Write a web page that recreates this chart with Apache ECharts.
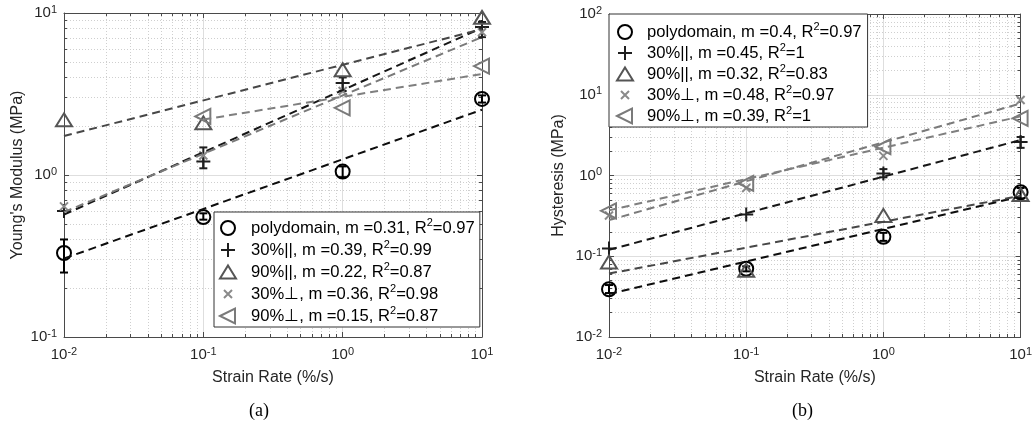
<!DOCTYPE html>
<html>
<head>
<meta charset="utf-8">
<script src="https://cdn.jsdelivr.net/npm/echarts@6/dist/echarts.min.js"></script>
<style>
html, body { margin: 0; padding: 0; background: #fff; }
#main { width: 1035px; height: 426px; }
</style>
</head>
<body>
<div id="main"></div>
<script>
// strain rates (%/s)
var rates = [0.01, 0.1, 1, 10];

// (a) Young's modulus (MPa)
var ymNames = ['polydomain, m =0.31, R^2=0.97', '30%||, m =0.39, R^2=0.99', '90%||, m =0.22, R^2=0.87',
               '30%\u22a5, m =0.36, R^2=0.98', '90%\u22a5, m =0.15, R^2=0.87'];
var ymPoly   = [0.33, 0.55, 1.05, 2.95];
var ymPar30  = [0.60, 1.21, 3.70, 8.2];
var ymPar90  = [2.19, 2.10, 4.47, 9.4];
var ymPerp30 = [0.64, 1.32, 3.30, 7.6];
var ymPerp90 = [null, 2.30, 2.60, 4.7];
// fitted lines: [x, y] at both ends
var ymFitPoly   = [[0.01, 0.305], [10, 2.53]];
var ymFitPar30  = [[0.01, 0.57], [10, 8.1]];
var ymFitPar90  = [[0.01, 1.74], [10, 7.95]];
var ymFitPerp30 = [[0.01, 0.59], [10, 7.1]];
var ymFitPerp90 = [[0.1, 2.2], [10, 4.2]];
// error bars: [x, low, high]
var ymErrPoly  = [[0.01, 0.25, 0.40], [0.1, 0.53, 0.58], [1, 0.97, 1.13], [10, 2.8, 3.1]];
var ymErrPar30 = [[0.1, 1.10, 1.48], [1, 3.3, 4.0], [10, 7.1, 8.8]];

// (b) hysteresis (MPa)
var hyNames = ['polydomain, m =0.4, R^2=0.97', '30%||, m =0.45, R^2=1', '90%||, m =0.32, R^2=0.83',
               '30%\u22a5, m =0.48, R^2=0.97', '90%\u22a5, m =0.39, R^2=1'];
var hyPoly   = [0.039, 0.070, 0.174, 0.62];
var hyPar30  = [0.125, 0.33, 1.06, 2.6];
var hyPar90  = [0.085, 0.067, 0.32, 0.58];
var hyPerp30 = [0.32, 0.70, 1.75, 8.6];
var hyPerp90 = [0.365, 0.80, 2.27, 5.1];
var hyFitPoly   = [[0.01, 0.034], [10, 0.55]];
var hyFitPar30  = [[0.01, 0.12], [10, 2.75]];
var hyFitPar90  = [[0.01, 0.061], [10, 0.56]];
var hyFitPerp30 = [[0.01, 0.28], [10, 7.8]];
var hyFitPerp90 = [[0.01, 0.37], [10, 5.4]];
var hyErrPoly  = [[0.01, 0.035, 0.044], [0.1, 0.065, 0.075], [1, 0.155, 0.195], [10, 0.52, 0.70]];
var hyErrPar30 = [[1, 0.95, 1.2], [10, 2.2, 3.0]];

// marker shapes (padded boxes so every marker sits in the same 16x16 square)
var symbols = [
    'path://M0,0M16,16M1,8A7,7,0,1,1,15,8A7,7,0,1,1,1,8Z',
    'path://M0,0M16,16M8,1L8,15M1,8L15,8',
    'path://M0,0M16,16M8,1.5L16,14.5L0,14.5Z',
    'path://M0,0M16,16M4,4L12,12M12,4L4,12',
    'path://M0,0M16,16M0,8L15,0.5L15,15.5Z'
];
var markColors = ['#000000', '#1e1e1e', '#555555', '#8a8a8a', '#7a7a7a'];
var lineColors = ['#0d0d0d', '#161616', '#474747', '#7a7a7a', '#7f7f7f'];

var font = 'Liberation Sans, Arial, sans-serif';
var axisColor = '#4a4a4a';

function pairs(vals) {
    var out = [];
    vals.forEach(function (v, i) { if (v != null) out.push([rates[i], v]); });
    return out;
}

function buildSeries(gi, names, vals, fits, errs) {
    var list = [];
    fits.forEach(function (f, i) {
        list.push({
            type: 'line', name: 'fit' + gi + i, xAxisIndex: gi * 2, yAxisIndex: gi * 2,
            data: f, symbol: 'none', silent: true, z: 3,
            lineStyle: { color: lineColors[i], width: 2, type: [8, 5] }
        });
    });
    vals.forEach(function (v, i) {
        list.push({
            type: 'scatter', name: names[i], xAxisIndex: gi * 2, yAxisIndex: gi * 2,
            data: pairs(v), symbol: symbols[i], symbolSize: 16, z: 2,
            itemStyle: { color: 'rgba(0,0,0,0)', borderColor: markColors[i], borderWidth: 2, opacity: 1 }
        });
    });
    errs.forEach(function (e) {
        list.push({
            type: 'custom', xAxisIndex: gi * 2, yAxisIndex: gi * 2, silent: true, z: 2,
            data: e.data, encode: { x: 0, y: [1, 2] },
            renderItem: function (params, api) {
                var x = api.value(0);
                var p1 = api.coord([x, api.value(1)]);
                var p2 = api.coord([x, api.value(2)]);
                var st = { stroke: e.color, lineWidth: 2 };
                return {
                    type: 'group', children: [
                        { type: 'line', shape: { x1: p1[0], y1: p1[1], x2: p2[0], y2: p2[1] }, style: st },
                        { type: 'line', shape: { x1: p1[0] - 4, y1: p1[1], x2: p1[0] + 4, y2: p1[1] }, style: st },
                        { type: 'line', shape: { x1: p2[0] - 4, y1: p2[1], x2: p2[0] + 4, y2: p2[1] }, style: st }
                    ]
                };
            }
        });
    });
    return list;
}

var tickRich = {
    b: { fontSize: 15, lineHeight: 18, fontFamily: font, color: '#262626' },
    s: { fontSize: 11, lineHeight: 10, verticalAlign: 'top', fontFamily: font, color: '#262626' }
};
function powLabel(v) {
    var e = Math.round(Math.log10(v));
    return '{b|10}{s|' + e + '}';
}

function logAxis(dim, gi, pos, min, max, main, name, nameGap) {
    return {
        type: 'log', logBase: 10, gridIndex: gi, position: pos, min: min, max: max,
        name: main ? name : '', nameLocation: 'middle', nameGap: nameGap,
        nameTextStyle: { fontFamily: font, fontSize: 16, color: '#262626' },
        axisLine: { show: true, onZero: false, lineStyle: { color: axisColor, width: 1 } },
        axisTick: { show: true, inside: true, length: 5, lineStyle: { color: axisColor } },
        minorTick: { show: true, splitNumber: 9, length: 3, lineStyle: { color: axisColor } },
        axisLabel: {
            show: main, formatter: powLabel, rich: tickRich,
            margin: dim === 'x' ? 9 : 7, showMinLabel: true, showMaxLabel: true
        },
        splitLine: { show: main, lineStyle: { color: '#dedede', width: 1 } },
        minorSplitLine: { show: main, lineStyle: { color: '#cfcfcf', width: 1, type: [1, 2] } },
        axisPointer: { show: false }
    };
}

var legendRich = {
    t: { fontSize: 16.6, lineHeight: 22, fontFamily: font, color: '#000' },
    s: { fontSize: 11, lineHeight: 10, verticalAlign: 'top', fontFamily: font, color: '#000' }
};
function legendLabel(name) {
    var parts = name.split('^2');
    return '{t|' + parts[0] + '}{s|2}{t|' + parts[1] + '}';
}
function legendOf(names, left, top, padding, gap, w) {
    return {
        data: names, orient: 'vertical', left: left, top: top, padding: padding,
        itemGap: gap, itemWidth: w, itemHeight: 16, selectedMode: false,
        backgroundColor: '#fff', borderColor: '#333', borderWidth: 1,
        formatter: legendLabel, textStyle: { rich: legendRich }
    };
}

var series = []
    .concat(buildSeries(0, ymNames, [ymPoly, ymPar30, ymPar90, ymPerp30, ymPerp90],
        [ymFitPoly, ymFitPar30, ymFitPar90, ymFitPerp30, ymFitPerp90],
        [{ data: ymErrPoly, color: markColors[0] }, { data: ymErrPar30, color: markColors[1] }]))
    .concat(buildSeries(1, hyNames, [hyPoly, hyPar30, hyPar90, hyPerp30, hyPerp90],
        [hyFitPoly, hyFitPar30, hyFitPar90, hyFitPerp30, hyFitPerp90],
        [{ data: hyErrPoly, color: markColors[0] }, { data: hyErrPar30, color: markColors[1] }]));

var chart = echarts.init(document.getElementById('main'));
chart.setOption({
    animation: false,
    backgroundColor: '#fff',
    grid: [
        { left: 64, top: 13, width: 418, height: 324 },
        { left: 609, top: 14, width: 418, height: 323 }
    ],
    xAxis: [
        logAxis('x', 0, 'bottom', 0.01, 10, true, 'Strain Rate (%/s)', 33),
        logAxis('x', 0, 'top', 0.01, 10, false),
        logAxis('x', 1, 'bottom', 0.01, 10, true, 'Strain Rate (%/s)', 33),
        logAxis('x', 1, 'top', 0.01, 10, false)
    ],
    yAxis: [
        logAxis('y', 0, 'left', 0.1, 10, true, "Young's Modulus (MPa)", 38),
        logAxis('y', 0, 'right', 0.1, 10, false),
        logAxis('y', 1, 'left', 0.01, 100, true, 'Hysteresis (MPa)', 42),
        logAxis('y', 1, 'right', 0.01, 100, false)
    ],
    legend: [
        legendOf(ymNames, 214, 212, [5, 5, 2, 5], 2, 36),
        legendOf(hyNames, 609, 14, [7, 6, 2, 7], 1, 34)
    ],
    graphic: [
        { type: 'text', left: 249, top: 402, style: { text: '(a)', font: '18px "Liberation Serif", serif', fill: '#000' } },
        { type: 'text', left: 792, top: 402, style: { text: '(b)', font: '18px "Liberation Serif", serif', fill: '#000' } }
    ],
    series: series
});
</script>
</body>
</html>
